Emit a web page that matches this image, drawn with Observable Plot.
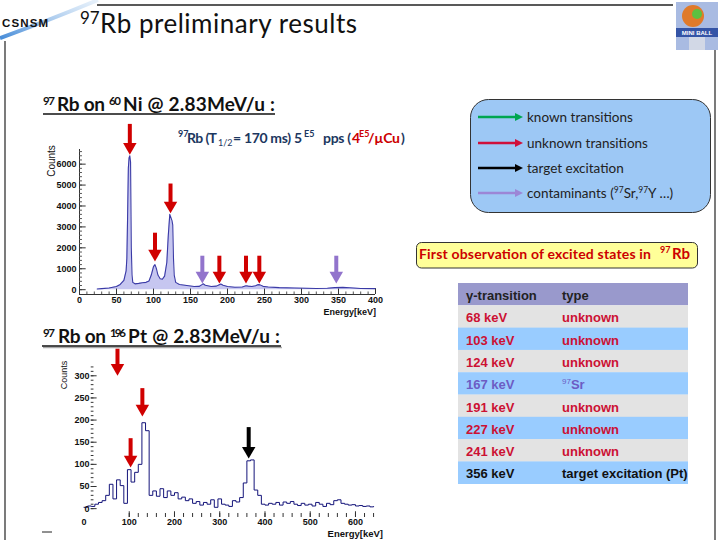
<!DOCTYPE html>
<html><head><meta charset="utf-8">
<script src="https://cdn.jsdelivr.net/npm/d3@7"></script>
<script src="https://cdn.jsdelivr.net/npm/@observablehq/plot@0.6"></script>
<style>
html,body{margin:0;padding:0;background:#fff;}
#page{position:relative;width:720px;height:540px;overflow:hidden;background:#fff;}
.abs{position:absolute;left:0;top:0;}
#ni{position:absolute;left:0;top:118px;}
#pt{position:absolute;left:0;top:340px;}
.cal{font-family:Lato,"Open Sans",sans-serif;}
.ar{font-family:"Liberation Sans",Arial,sans-serif;}
</style></head>
<body>
<div id="page">
<svg id="deco" class="abs" width="720" height="540">
  <defs>
    <linearGradient id="sw" x1="0" y1="1" x2="1" y2="0">
      <stop offset="0" stop-color="#3d86d6" stop-opacity="0.95"/>
      <stop offset="1" stop-color="#c4dcf4" stop-opacity="0.4"/>
    </linearGradient>
  </defs>
  <path d="M0,38 Q45,22 98,0" stroke="url(#sw)" stroke-width="4" fill="none"/>
  <text x="2" y="27" class="ar" font-weight="bold" font-size="11.5" fill="#111" textLength="46">CSNSM</text>
  <line x1="97" y1="5" x2="673" y2="5" stroke="#222" stroke-width="1.3"/>
  <line x1="5" y1="41" x2="5" y2="540" stroke="#222" stroke-width="1.2"/>
  <line x1="715" y1="50" x2="715" y2="540" stroke="#222" stroke-width="1.2"/>
  <!-- logo -->
  <rect x="676" y="2" width="42" height="48" fill="#a9bbe2"/>
  <circle cx="693" cy="16" r="11" fill="#e07a2a"/>
  <circle cx="697" cy="14" r="5" fill="#5cc040"/>
  <rect x="676" y="28" width="42" height="9" fill="#3454a6"/>
  <text x="697" y="35" font-size="6" fill="#fff" text-anchor="middle" class="ar" font-weight="bold">MINI BALL</text>
  <rect x="689" y="37" width="16" height="13" fill="#d2d8e6"/>
  <!-- title -->
  <text x="80" y="24" class="cal" font-size="17" fill="#111">97</text>
  <text x="100" y="33" class="cal" font-size="26" fill="#111" textLength="257">Rb preliminary results</text>
  <!-- Ni subtitle -->
  <g class="cal" font-weight="bold" fill="#111">
    <text x="43" y="105" font-size="11.5" textLength="12">97</text>
    <text x="57" y="111" font-size="19" textLength="48">Rb on</text>
    <text x="109" y="105" font-size="11.5" textLength="12">60</text>
    <text x="123" y="111" font-size="19" textLength="152">Ni @ 2.83MeV/u :</text>
  </g>
  <line x1="43" y1="114" x2="275" y2="114" stroke="#111" stroke-width="1.6"/>
  <!-- Pt subtitle -->
  <line x1="43" y1="347.5" x2="282" y2="347.5" stroke="#aaa" stroke-width="1.6"/>
  <g class="cal" font-weight="bold" fill="#111">
    <text x="43" y="337" font-size="11.5" textLength="12">97</text>
    <text x="58" y="343" font-size="19" textLength="48">Rb on</text>
    <text x="110" y="337" font-size="11.5" textLength="16">196</text>
    <text x="128" y="343" font-size="19" textLength="152">Pt @ 2.83MeV/u :</text>
  </g>
  <line x1="42" y1="346" x2="281" y2="346" stroke="#111" stroke-width="1.6"/>
  <!-- annotation -->
  <g class="cal" font-weight="bold" fill="#1c3760">
    <text x="178" y="137" font-size="9">97</text>
    <text x="187" y="143" font-size="14" textLength="30">Rb (T</text>
    <text x="218" y="146" font-size="9" font-weight="normal">1/2</text>
    <text x="233" y="143" font-size="14" textLength="69">= 170 ms) 5</text>
    <text x="304" y="137" font-size="9">E5</text>
    <text x="323" y="143" font-size="14" textLength="28">pps (</text>
    <text x="352" y="143" font-size="14" fill="#cc0000">4</text>
    <text x="359" y="137" font-size="9" fill="#cc0000">E5</text>
    <text x="368" y="143" font-size="14" fill="#cc0000" textLength="32">/µCu</text>
    <text x="401" y="143" font-size="14">)</text>
  </g>
  <!-- legend box -->
  <rect x="470.5" y="99.5" width="240" height="113" rx="18" fill="#9dc8f5" stroke="#333" stroke-width="1"/>
  <g id="legend"></g>
  <!-- banner -->
  <rect x="416.5" y="242.5" width="281" height="25.5" rx="5" fill="#ffff99" stroke="#333" stroke-width="1"/>
  <g class="cal" font-weight="bold" fill="#cc0000">
    <text x="419" y="259" font-size="14" textLength="232">First observation of excited states in</text>
    <text x="660" y="253" font-size="9">97</text>
    <text x="672" y="259" font-size="15">Rb</text>
  </g>
  <g id="table"></g>
  <!-- axis titles -->
  <text transform="translate(55,161) rotate(-90)" text-anchor="middle" class="ar" font-size="10" fill="#111">Counts</text>
  <text x="376" y="315" text-anchor="end" class="ar" font-size="9" font-weight="bold" fill="#111">Energy[keV]</text>
  <text transform="translate(67,375) rotate(-90)" text-anchor="middle" class="ar" font-size="9" fill="#111">Counts</text>
  <text x="383" y="537" text-anchor="end" class="ar" font-size="9.5" font-weight="bold" fill="#111">Energy[keV]</text>
  <line x1="42" y1="532" x2="52" y2="532" stroke="#222" stroke-width="1"/>
</svg>
<div id="ni"></div>
<div id="pt"></div>
</div>
<script>
// ---- Spectrum 1: 97Rb on 60Ni ----
const niEnergy = [24,30,40,50,55,60,63,64,65,66,67,68,69,70,71,72,75,80,85,90,94,97,100,102,104,106,109,112,115,118,120,122,123,125,126,127,128,130,135,145,155,162,165,167,170,178,185,189,191,194,200,210,220,225,228,233,238,241,244,248,255,270,290,320,335,345,356,365,380,400];
const niCounts = [30,50,80,150,250,450,900,1500,3500,5800,6300,6400,6100,2000,700,350,280,300,330,350,420,700,1100,1200,1000,700,520,500,650,1300,2600,3600,3500,3300,3100,1500,700,350,250,200,150,160,230,280,210,150,170,240,270,210,150,120,130,190,170,150,190,240,230,160,130,100,80,60,70,100,110,90,60,50];
const niArrowE    = [68,102,123,166,189,225,243,347];
const niArrowFrom = [7900,2700,5050,1600,1600,1600,1600,1600];
const niArrowTo   = [6450,1350,3650,300,300,300,300,300];
const niArrowKind = ["unknown","unknown","unknown","contaminant","unknown","unknown","unknown","contaminant"];
const niXTicks = [0,50,100,150,200,250,300,350,400];
const niYTicks = [0,1000,2000,3000,4000,5000,6000];

// ---- Spectrum 2: 97Rb on 196Pt ----
const ptEnergy = [0,8,16,24,32,40,48,56,64,72,80,88,96,104,112,120,128,136,144,152,160,168,176,184,192,200,208,216,224,232,240,248,256,264,272,280,288,296,304,312,320,328,336,344,352,360,368,376,384,392,400,408,416,424,432,440,448,456,464,472,480,488,496,504,512,520,528,536,544,552,560,568,576,584,592,600,608,616,624,632,640];
const ptCounts = [3,6,5,10,14,18,30,55,22,65,52,12,88,60,82,100,194,176,30,40,28,45,25,40,30,36,22,26,18,22,12,16,8,14,10,20,3,22,10,8,5,18,15,25,58,108,110,42,30,10,8,12,10,14,8,15,12,16,10,7,12,8,10,6,14,10,5,12,9,18,20,12,10,8,9,6,7,5,6,4,5];
const ptArrowE    = [74,103,129,364];
const ptArrowFrom = [360,158,271,183];
const ptArrowTo   = [300,93,208,113];
const ptArrowKind = ["unknown","unknown","unknown","target"];
const ptXTicks = [0,100,200,300,400,500,600];
const ptYTicks = [0,50,100,150,200,250,300];

// ---- Legend & table ----
const legendKinds  = ["known","unknown","target","contaminant"];
const legendLabels = ["known transitions","unknown transitions","target excitation","contaminants ("];
const transitions = ["68 keV","103 keV","124 keV","167 keV","191 keV","227 keV","241 keV","356 keV"];
const transKinds  = ["unknown","unknown","unknown","contaminant","unknown","unknown","unknown","target"];
const transTypes  = ["unknown","unknown","unknown","Sr","unknown","unknown","unknown","target excitation (Pt)"];

const arrowColor = {known:"#00a651", unknown:"#d00000", target:"#000000", contaminant:"#9274cc"};
const legendColor = {known:"#00a651", unknown:"#d0103a", target:"#000000", contaminant:"#9c86d6"};
const textColor = {unknown:"#cc1133", contaminant:"#6c5cc4", target:"#111111"};

const niData = niEnergy.map((e,i)=>({e, c:niCounts[i]}));
const niArrows = niArrowE.map((e,i)=>({e, from:niArrowFrom[i], to:niArrowTo[i], col:arrowColor[niArrowKind[i]]}));
const ptData = ptEnergy.map((e,i)=>({e, c:ptCounts[i]}));
const ptArrows = ptArrowE.map((e,i)=>({e, from:ptArrowFrom[i], to:ptArrowTo[i], col:arrowColor[ptArrowKind[i]]}));

const axisStyle = {background:"transparent", overflow:"visible", fontFamily:"'Liberation Sans', Arial, sans-serif", fontSize:"9px", fontWeight:"bold", color:"#111"};

const niPlot = Plot.plot({
  width: 400, height: 200,
  marginLeft: 79, marginRight: 25, marginTop: 31, marginBottom: 24,
  x: {domain: [0,400], axis: null},
  y: {domain: [-230,6700], axis: null},
  color: {type: "identity"},
  style: axisStyle,
  marks: [
    Plot.areaY(niData, {x:"e", y:"c", fill:"#c6c6f0"}),
    Plot.lineY(niData, {x:"e", y:"c", stroke:"#3a3aa6", strokeWidth:1.1}),
    Plot.ruleX([0], {y1:-230, y2:6700, stroke:"#333"}),
    Plot.ruleY([-230], {x1:0, x2:400, stroke:"#333"}),
    Plot.ruleY(d3.range(0,6700,200), {y:d=>d, x1:0, x2:4, stroke:"#555"}),
    Plot.ruleY(niYTicks, {y:d=>d, x1:0, x2:9, stroke:"#333"}),
    Plot.ruleX(d3.range(0,401,10), {x:d=>d, y1:-230, y2:-110, stroke:"#555"}),
    Plot.ruleX(niXTicks, {x:d=>d, y1:-230, y2:30, stroke:"#333"}),
    Plot.text(niYTicks, {x:0, y:d=>d, text:d=>String(d), textAnchor:"end", dx:-3, fill:"#111"}),
    Plot.text(niXTicks, {x:d=>d, y:-230, text:d=>String(d), dy:6, fill:"#111"}),
    Plot.ruleX(niArrows, {x:"e", y1:"from", y2:"to", stroke:"col", strokeWidth:4, insetBottom:8}),
    Plot.dot(niArrows, {x:"e", y:"to", symbol:"triangle", r:5, fill:"col", stroke:null, rotate:180, dy:-7.8})
  ]
});
document.getElementById("ni").append(niPlot);

const ptPlot = Plot.plot({
  width: 400, height: 200,
  marginLeft: 83.5, marginRight: 22.4, marginTop: 22, marginBottom: 23,
  x: {domain: [0,650], axis: null},
  y: {domain: [-20,330], axis: null},
  color: {type: "identity"},
  style: axisStyle,
  marks: [
    Plot.line(ptData, {x:"e", y:"c", curve:"step-after", stroke:"#14147a", strokeWidth:1}),
    Plot.ruleY(d3.range(0,330,10), {y:d=>d, x1:16, x2:22, stroke:"#333"}),
    Plot.ruleY(ptYTicks, {y:d=>d, x1:16, x2:29, stroke:"#333"}),
    Plot.ruleX(d3.range(100,650,20), {x:d=>d, y1:-20, y2:-11, stroke:"#333"}),
    Plot.ruleX(ptXTicks.slice(1), {x:d=>d, y1:-20, y2:-7, stroke:"#333"}),
    Plot.text(ptYTicks, {x:12, y:d=>d, text:d=>String(d), textAnchor:"end", fill:"#111"}),
    Plot.text(ptXTicks, {x:d=>d, y:-20, text:d=>String(d), dy:5, fill:"#111"}),
    Plot.ruleX(ptArrows, {x:"e", y1:"from", y2:"to", stroke:"col", strokeWidth:4, insetBottom:8}),
    Plot.dot(ptArrows, {x:"e", y:"to", symbol:"triangle", r:5, fill:"col", stroke:null, rotate:180, dy:-7.8})
  ]
});
document.getElementById("pt").append(ptPlot);

// legend
const lg = d3.select("#legend");
const legendY = [117,143,168,193];
legendKinds.forEach((k,i)=>{
  const y = legendY[i];
  lg.append("line").attr("x1",478).attr("x2",517).attr("y1",y).attr("y2",y)
    .attr("stroke",legendColor[k]).attr("stroke-width",2.5);
  lg.append("polygon").attr("points",`515,${y-4} 523,${y} 515,${y+4}`).attr("fill",legendColor[k]);
  const t = lg.append("text").attr("class","cal").attr("x",527).attr("y",y+5)
    .attr("font-size",13.5).attr("fill","#222").text(legendLabels[i]);
  if (k==="contaminant") {
    t.append("tspan").attr("font-size",8.5).attr("dy",-5).text("97");
    t.append("tspan").attr("dy",5).text("Sr,");
    t.append("tspan").attr("font-size",8.5).attr("dy",-5).text("97");
    t.append("tspan").attr("dy",5).text("Y …)");
  }
});

// table
const tb = d3.select("#table");
const tX = 458, tW = 230, tTop = 283, rowH = 22.3, col1 = 466, col2 = 562;
tb.append("rect").attr("x",tX).attr("y",tTop).attr("width",tW).attr("height",rowH).attr("fill","#9999cc");
tb.append("text").attr("class","ar").attr("x",col1).attr("y",tTop+17).attr("font-size",13).attr("font-weight","bold").attr("fill","#222").text("γ-transition");
tb.append("text").attr("class","ar").attr("x",col2).attr("y",tTop+17).attr("font-size",13).attr("font-weight","bold").attr("fill","#222").text("type");
transitions.forEach((tr,i)=>{
  const y0 = tTop + rowH*(i+1);
  tb.append("rect").attr("x",tX).attr("y",y0).attr("width",tW).attr("height",rowH+0.3)
    .attr("fill", i%2===0 ? "#e3e3e3" : "#99ccff");
  const c = textColor[transKinds[i]];
  tb.append("text").attr("class","ar").attr("x",col1).attr("y",y0+17).attr("font-size",13).attr("font-weight","bold").attr("fill",c).text(tr);
  const t = tb.append("text").attr("class","ar").attr("x",col2).attr("y",y0+17).attr("font-size",13).attr("font-weight","bold").attr("fill",c);
  if (transKinds[i]==="contaminant") {
    t.append("tspan").attr("font-size",8).attr("font-weight","normal").attr("dy",-5).text("97");
    t.append("tspan").attr("dy",5).text(transTypes[i]);
  } else t.text(transTypes[i]);
});
</script>
</body></html>
